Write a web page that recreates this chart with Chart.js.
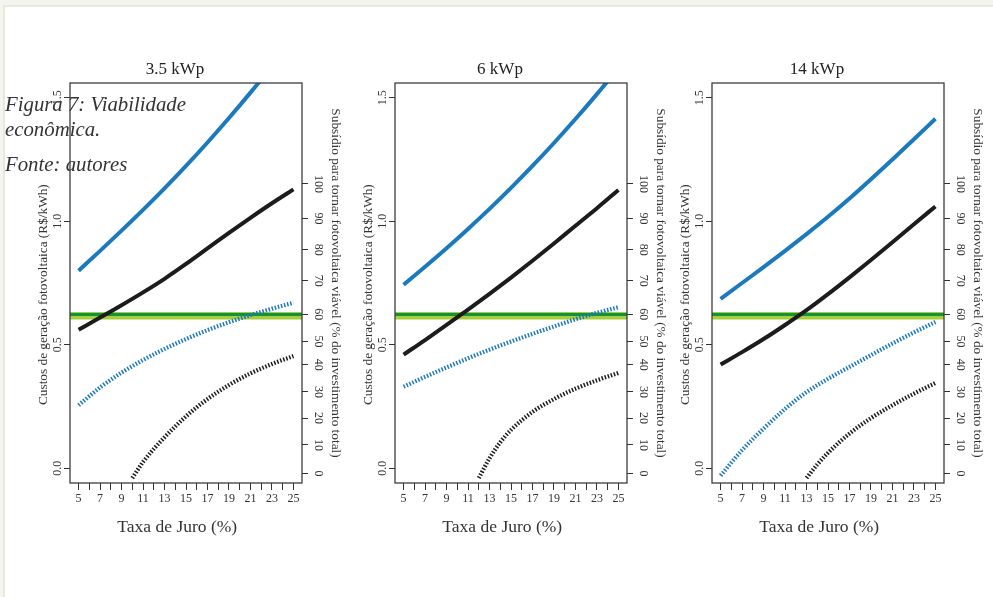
<!DOCTYPE html>
<html lang="pt">
<head>
<meta charset="utf-8">
<title>Viabilidade econômica</title>
<script src="https://cdn.jsdelivr.net/npm/chart.js@4.4.1/dist/chart.umd.min.js"></script>
<style>
    html, body { margin: 0; padding: 0; width: 993px; height: 597px; overflow: hidden; background: #f4f5ee; }
    #folha { position: absolute; left: 3px; top: 5px; right: 0; bottom: 0; background: #ffffff;
             border-left: 2px solid #e8e9dc; border-top: 2px solid #e8e9dc; }
    canvas { position: absolute; top: 0; }
    #legenda { position: absolute; left: 5px; top: 90.5px; font-family: "Liberation Serif", "Times New Roman", serif;
               font-style: italic; font-size: 20.8px; line-height: 25px; color: #333; }
    #legenda p { margin: 0 0 10.7px 0; }
</style>
</head>
<body>
<div id="folha"></div>
<canvas id="g35" width="350" height="597" style="left:0px"></canvas>
<canvas id="g6" width="350" height="597" style="left:325px"></canvas>
<canvas id="g14" width="350" height="597" style="left:642px"></canvas>
<div id="legenda"><p>Figura 7: Viabilidade<br>econômica.</p><p>Fonte: autores</p></div>

<script>
// Eixos
const taxas = [5, 7, 9, 11, 13, 15, 17, 19, 21, 23, 25];
const ticksTaxa = [5, 6, 7, 8, 9, 10, 11, 12, 13, 14, 15, 16, 17, 18, 19, 20, 21, 22, 23, 24, 25];
const ticksCusto = [0, 0.5, 1.0, 1.5];
// Eixo da direita (subsídio %) e onde cada rótulo cai na escala de custo
const rotulosSubsidio = [0, 10, 20, 30, 40, 50, 60, 70, 80, 90, 100];
const posSubsidio = [-0.022, 0.094, 0.203, 0.309, 0.419, 0.513, 0.623, 0.759, 0.885, 1.011, 1.151];

// Tarifa de referência (linhas verdes)
const limitesTarifa = [4, 26];
const tarifaEscura = 0.622;
const tarifaClara = 0.617;

// 3.5 kWp
const custoAzul35 = [0.80, 0.88, 0.962, 1.046, 1.133, 1.224, 1.319, 1.418, 1.521, 1.628, 1.739];
const custoPreto35 = [0.561, 0.61, 0.66, 0.712, 0.767, 0.827, 0.89, 0.953, 1.014, 1.073, 1.129];
const subsAzul35 = [0.255, 0.327, 0.387, 0.438, 0.483, 0.523, 0.559, 0.591, 0.62, 0.646, 0.67];
const taxasPreto35 = [10, 11, 13, 15, 17, 19, 21, 23, 25];
const subsPreto35 = [-0.04, 0.025, 0.125, 0.21, 0.28, 0.337, 0.384, 0.422, 0.454];

// 6 kWp
const custoAzul6 = [0.743, 0.816, 0.891, 0.969, 1.05, 1.135, 1.224, 1.317, 1.414, 1.515, 1.62];
const custoPreto6 = [0.46, 0.519, 0.58, 0.642, 0.706, 0.772, 0.84, 0.91, 0.982, 1.053, 1.127];
const subsAzul6 = [0.33, 0.37, 0.408, 0.445, 0.48, 0.513, 0.544, 0.574, 0.603, 0.629, 0.652];
const taxasPreto6 = [12, 13, 14, 15, 17, 19, 21, 23, 25];
const subsPreto6 = [-0.04, 0.04, 0.105, 0.155, 0.228, 0.28, 0.322, 0.356, 0.386];

// 14 kWp
const custoAzul14 = [0.686, 0.75, 0.814, 0.88, 0.948, 1.018, 1.092, 1.17, 1.25, 1.332, 1.415];
const custoPreto14 = [0.42, 0.47, 0.523, 0.58, 0.64, 0.705, 0.773, 0.843, 0.915, 0.988, 1.06];
const subsAzul14 = [-0.03, 0.073, 0.16, 0.24, 0.308, 0.362, 0.41, 0.458, 0.505, 0.55, 0.592];
const taxasPreto14 = [13, 14, 15, 17, 19, 21, 23, 25];
const subsPreto14 = [-0.04, 0.015, 0.062, 0.14, 0.203, 0.255, 0.302, 0.345];

const AZUL = '#1b79be';
const PRETO = '#1c1c1c';
const VERDE = '#13923d';
const VERDE_CLARO = '#a6ce3d';
const TINTA = '#333333';
const FONTE = '"Liberation Serif", "Times New Roman", serif';
const PONTILHADO = [1.5, 1.7];

function pontos(xs, ys) {
    return xs.map((x, i) => ({ x: x, y: ys[i] }));
}

function linha(dados, cor, largura, tracejado) {
    return {
        data: dados,
        borderColor: cor,
        borderWidth: largura,
        borderDash: tracejado || [],
        borderCapStyle: 'butt',
        pointRadius: 0,
        fill: false,
        cubicInterpolationMode: 'monotone',
        clip: 0
    };
}

// moldura do gráfico (estilo R)
const caixa = {
    id: 'caixa',
    afterDraw(chart) {
        const a = chart.chartArea;
        const ctx = chart.ctx;
        ctx.save();
        ctx.strokeStyle = '#3d3d3d';
        ctx.lineWidth = 1.3;
        ctx.strokeRect(a.left, a.top, a.right - a.left, a.bottom - a.top);
        ctx.restore();
    }
};

const paineis = [
    { id: 'g35', titulo: '3.5 kWp', azul: custoAzul35, preto: custoPreto35, subsAzul: subsAzul35, taxasPreto: taxasPreto35, subsPreto: subsPreto35 },
    { id: 'g6', titulo: '6 kWp', azul: custoAzul6, preto: custoPreto6, subsAzul: subsAzul6, taxasPreto: taxasPreto6, subsPreto: subsPreto6 },
    { id: 'g14', titulo: '14 kWp', azul: custoAzul14, preto: custoPreto14, subsAzul: subsAzul14, taxasPreto: taxasPreto14, subsPreto: subsPreto14 }
];

function desenhaPainel(p) {
    new Chart(document.getElementById(p.id), {
        type: 'line',
        data: {
            datasets: [
                linha(pontos(taxas, p.azul), AZUL, 4),
                linha(pontos(taxas, p.preto), PRETO, 4),
                linha(pontos(taxas, p.subsAzul), AZUL, 4.2, PONTILHADO),
                linha(pontos(p.taxasPreto, p.subsPreto), PRETO, 4.2, PONTILHADO),
                linha(pontos(limitesTarifa, [tarifaEscura, tarifaEscura]), VERDE, 3),
                linha(pontos(limitesTarifa, [tarifaClara, tarifaClara]), VERDE_CLARO, 7.5)
            ]
        },
        options: {
            responsive: false,
            animation: false,
            layout: { padding: { top: 0, bottom: 54, left: 0, right: 0 } },
            plugins: {
                legend: { display: false },
                tooltip: { enabled: false },
                title: {
                    display: true,
                    text: p.titulo,
                    color: '#222',
                    font: { family: FONTE, size: 17, weight: 'normal' },
                    padding: { top: 59, bottom: 3.6 }
                }
            },
            scales: {
                x: {
                    type: 'linear',
                    min: 4.2,
                    max: 25.8,
                    afterBuildTicks: s => { s.ticks = ticksTaxa.map(v => ({ value: v })); },
                    afterFit: s => { s.height = 60; },
                    grid: { drawOnChartArea: false, tickLength: 7, color: TINTA },
                    border: { display: false },
                    ticks: {
                        autoSkip: false,
                        maxRotation: 0,
                        padding: 1.8,
                        color: TINTA,
                        font: { family: FONTE, size: 12 },
                        callback: v => (v % 2 === 1 ? String(v) : '')
                    },
                    title: {
                        display: true,
                        text: 'Taxa de Juro (%)' + '\u00a0'.repeat(4),
                        color: TINTA,
                        font: { family: FONTE, size: 17.5 },
                        padding: { top: 0, bottom: 4.8 }
                    }
                },
                y: {
                    position: 'left',
                    min: -0.06,
                    max: 1.56,
                    afterBuildTicks: s => { s.ticks = ticksCusto.map(v => ({ value: v })); },
                    afterFit: s => { s.width = 70; },
                    grid: { drawOnChartArea: false, tickLength: 6, color: TINTA },
                    border: { display: false },
                    ticks: {
                        autoSkip: false,
                        minRotation: 90,
                        maxRotation: 90,
                        crossAlign: 'center',
                        padding: -1.5,
                        color: TINTA,
                        font: { family: FONTE, size: 12 },
                        callback: v => v.toFixed(1)
                    },
                    title: {
                        display: true,
                        text: 'Custos de geração fotovoltaica (R$/kWh)' + '\u00a0'.repeat(7),
                        color: TINTA,
                        font: { family: FONTE, size: 13.3 },
                        padding: { top: 36, bottom: 0 }
                    }
                },
                y2: {
                    position: 'right',
                    min: -0.06,
                    max: 1.56,
                    afterBuildTicks: s => { s.ticks = posSubsidio.map(v => ({ value: v })); },
                    afterFit: s => { s.width = 48; },
                    grid: { drawOnChartArea: false, tickLength: 6, color: TINTA },
                    border: { display: false },
                    ticks: {
                        autoSkip: false,
                        minRotation: -90,
                        maxRotation: 90,
                        crossAlign: 'center',
                        padding: 0.7,
                        color: TINTA,
                        font: { family: FONTE, size: 12 },
                        callback: (v, i) => String(rotulosSubsidio[i])
                    },
                    title: {
                        display: true,
                        text: 'Subsídio para tornar fotovoltaica viável (% do investimento total)',
                        color: TINTA,
                        font: { family: FONTE, size: 13.3 },
                        padding: { top: 6.5, bottom: 0 }
                    }
                }
            }
        },
        plugins: [caixa]
    });
}

window.onload = () => {
    paineis.forEach(desenhaPainel);
};
</script>
</body>
</html>
